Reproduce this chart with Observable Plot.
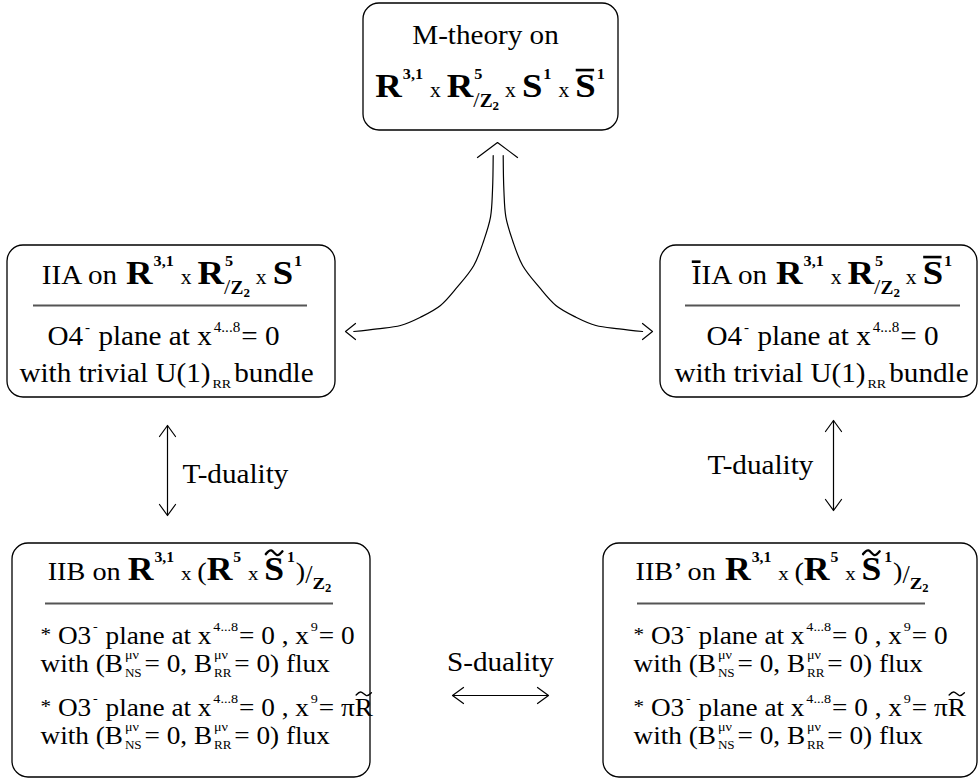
<!DOCTYPE html>
<html><head><meta charset="utf-8">
<script src="https://cdn.jsdelivr.net/npm/d3@7"></script>
<script src="https://cdn.jsdelivr.net/npm/@observablehq/plot@0.6"></script>
<style>body{margin:0;background:#fff}</style>
</head><body><div id="chart"></div>
<script>
// ---------- diagram data ----------
const boxes = [
  {id: "M",     x1: 363, x2: 618, y1: 3,   y2: 130},
  {id: "IIA",   x1: 7,   x2: 335, y1: 245, y2: 397},
  {id: "IIAb",  x1: 660, x2: 977, y1: 245, y2: 397},
  {id: "IIB",   x1: 12,  x2: 370, y1: 543, y2: 777},
  {id: "IIBp",  x1: 603, x2: 977, y1: 543, y2: 777}
];
const dividers = [
  {x1: 33,  x2: 307, y: 305},
  {x1: 685, x2: 960, y: 305},
  {x1: 45,  x2: 333, y: 603},
  {x1: 637, x2: 925, y: 603}
];
// token lists: [text, style, flag]
const Rchain = [["R","B"],["3,1","bsup"],["x","tm"],["R","B"],["5","bsup","stack"],["/","slash"],["Z","bsub"],["2","bsub2"],["x","tm"]];
const IIBchain = [["R","B"],["3,1","bsup"],["x","tm"],["(","rm"],["R","B"],["5","bsup"],["x","tm"],["S","B","tilde"],["1","bsupT"],[")","rm"],["/","slash2"],["Z","bsub"],["2","bsub2"]];
const o4Row = [["O4","rm"],["-","sup"],[" plane at x","rm"],["4...8","sup"],["= 0","rm"]];
const bundleRow = [["with trivial U(1)","rm"],["RR","sub"],["bundle","rm"]];
const o3RowA = [["*","ast"],[" O3","rm"],["-","sup"],[" plane at x","rm"],["4...8","sup"],["= 0 , x","rm"],["9","sup"],["= 0","rm"]];
const o3RowB = [["*","ast"],[" O3","rm"],["-","sup"],[" plane at x","rm"],["4...8","sup"],["= 0 , x","rm"],["9","sup"],["= π","rm"],["R","rm","tilde"]];
const fluxRow = [["with (B","rm"],["μν","sup","stack"],["NS","sub"],["= 0, B","rm"],["μν","sup","stack"],["RR","sub"],["= 0) flux","rm"]];

const rows = [
  {x: 485, y: 43,  anchor: "middle", tokens: [["M-theory on","rm"]]},
  {x: 490, y: 96,  anchor: "middle", tokens: [...Rchain, ["S","B"],["1","bsup"],["x","tm"],["S","B","bar"],["1","bsup"]]},
  {x: 172, y: 283, anchor: "middle", tokens: [["IIA on ","rm"], ...Rchain, ["S","B"],["1","bsup"]]},
  {x: 163, y: 344, anchor: "middle", tokens: o4Row},
  {x: 166, y: 381, anchor: "middle", tokens: bundleRow},
  {x: 822, y: 283, anchor: "middle", tokens: [["I","rm","bar"],["IA on ","rm"], ...Rchain, ["S","B","bar"],["1","bsup"]]},
  {x: 822, y: 344, anchor: "middle", tokens: o4Row},
  {x: 821, y: 381, anchor: "middle", tokens: bundleRow},
  {x: 189, y: 579, anchor: "middle", k: 0.97, tokens: [["IIB on ","rm"], ...IIBchain]},
  {x: 40,  y: 643, anchor: "start", k: 0.935, tokens: o3RowA},
  {x: 40,  y: 671, anchor: "start", k: 0.935, tokens: fluxRow},
  {x: 40,  y: 715, anchor: "start", k: 0.935, tokens: o3RowB},
  {x: 40,  y: 743, anchor: "start", k: 0.935, tokens: fluxRow},
  {x: 635, y: 579, anchor: "start", k: 0.97, tokens: [["IIB’ on ","rm"], ...IIBchain]},
  {x: 633, y: 643, anchor: "start", k: 0.935, tokens: o3RowA},
  {x: 633, y: 671, anchor: "start", k: 0.935, tokens: fluxRow},
  {x: 633, y: 715, anchor: "start", k: 0.935, tokens: o3RowB},
  {x: 633, y: 743, anchor: "start", k: 0.935, tokens: fluxRow},
  {x: 182, y: 482, anchor: "start", tokens: [["T-duality","rm"]]},
  {x: 707, y: 473, anchor: "start", tokens: [["T-duality","rm"]]},
  {x: 500, y: 670, anchor: "middle", tokens: [["S-duality","rm"]]}
];
// straight double-headed arrows
const straightArrows = [
  {x1: 167, y1: 425, x2: 167, y2: 515},
  {x1: 833, y1: 420, x2: 833, y2: 510},
  {x1: 452, y1: 695, x2: 548, y2: 695}
];
// fork from M-theory box to the IIA boxes
const forkLeftX  = [492.7, 492.0, 490.0, 483.3, 473.3, 456.7, 440.0, 420.0, 400.0, 376.7, 353.3];
const forkLeftY  = [155, 190, 216.7, 240, 265, 286.7, 305, 316.7, 325, 328.3, 331];
const forkRightX = [502.7, 503.4, 505.4, 512.1, 522.1, 538.7, 555.4, 575.4, 595.4, 618.7, 642.1];
const forkRightY = [155, 190, 216.7, 240, 265, 286.7, 305, 316.7, 325, 328.3, 331];
const forkHeads = [
  {x: 497, y: 142, dx: 0,  dy: -1, L: 15, W: 20},
  {x: 345, y: 331, dx: -1, dy: 0,  L: 10, W: 8},
  {x: 652, y: 331, dx: 1,  dy: 0,  L: 10, W: 8}
];

// ---------- text styles ----------
const FONT = "Liberation Serif, Times New Roman, serif";
const HS = 1.08;
const STY = {
  rm:    {size: 27, w: 400, dy: 0},
  B:     {size: 34, w: 700, dy: 0},
  tm:    {size: 20, w: 400, dy: 0, pl: 6, pr: 6},
  bsup:  {size: 15, w: 700, dy: -18, pl: 1, pr: 1},
  bsupT: {size: 15, w: 700, dy: -18, pl: 3, pr: 1},
  bsub:  {size: 18, w: 700, dy: 10},
  bsub2: {size: 12, w: 700, dy: 13},
  slash: {size: 21, w: 400, dy: 10},
  slash2:{size: 25, w: 400, dy: 4},
  sup:   {size: 14, w: 400, dy: -13, pl: 2, pr: 1},
  sub:   {size: 13, w: 400, dy: 6, pl: 2, pr: 3},
  ast:   {size: 21, w: 400, dy: -3}
};
const subStyles = new Set(["bsub","bsub2","slash","sub"]);
const ctx = document.createElement("canvas").getContext("2d");
function measure(t, size, w) { ctx.font = `${w} ${size}px "Liberation Serif"`; return ctx.measureText(t).width * HS; }

const pieces = [], bars = [], tildes = [];
for (const row of rows) {
  const k = row.k || 1;
  let x = 0, pend = null;
  const local = [], lbars = [], ltil = [];
  for (const [t, s, f] of row.tokens) {
    const st = STY[s];
    const size = st.size * k;
    if (pend != null && !subStyles.has(s)) { x = Math.max(x, pend); pend = null; }
    const start = x;
    x += (st.pl || 0) * k;
    const w = measure(t, size, st.w);
    local.push({t, x, y: row.y + st.dy * k, size, weight: st.w});
    if (f === "bar") lbars.push({x1: x + w * 0.05, x2: x + w * 0.95, y: row.y - size * 0.66 - 4});
    if (f === "tilde") ltil.push({cx: x + w / 2, cy: row.y - size * 0.66 - 5, hw: w * 0.42, a: size * 0.07, weight: st.w});
    x += w + (st.pr || 0) * k;
    if (f === "stack") { pend = x; x = start; }
  }
  if (pend != null) x = Math.max(x, pend);
  const off = row.anchor === "middle" ? row.x - x / 2 : row.x;
  for (const p of local) pieces.push({...p, x: p.x + off});
  for (const b of lbars) bars.push({...b, x1: b.x1 + off, x2: b.x2 + off});
  for (const q of ltil) tildes.push({...q, cx: q.cx + off});
}

// tilde accents drawn as small waves (4 control points each)
const tildePts = [];
tildes.forEach((q, i) => {
  [[-1, 0.6], [-0.35, -1], [0.35, 1], [1, -0.6]].forEach(([u, v]) =>
    tildePts.push({x: q.cx + u * q.hw, y: q.cy + v * q.a, id: i, sw: q.weight === 700 ? 2.4 : 1.4}));
});

// ---------- arrows ----------
function chevron(ax, ay, dx, dy, L, W, id) {
  const nx = -dy, ny = dx;
  return [
    {x: ax - L * dx + W * nx, y: ay - L * dy + W * ny, id},
    {x: ax, y: ay, id},
    {x: ax - L * dx - W * nx, y: ay - L * dy - W * ny, id}
  ];
}
const heads = [];
straightArrows.forEach((a, i) => {
  const len = Math.hypot(a.x2 - a.x1, a.y2 - a.y1), ux = (a.x2 - a.x1) / len, uy = (a.y2 - a.y1) / len;
  heads.push(...chevron(a.x2, a.y2, ux, uy, 11, 8, "s" + i + "b"));
  heads.push(...chevron(a.x1, a.y1, -ux, -uy, 11, 8, "s" + i + "a"));
});
forkHeads.forEach((h, i) => heads.push(...chevron(h.x, h.y, h.dx, h.dy, h.L, h.W, "f" + i)));
const fork = [
  ...forkLeftX.map((x, i) => ({x, y: forkLeftY[i], b: "L"})),
  ...forkRightX.map((x, i) => ({x, y: forkRightY[i], b: "R"}))
];

const bold = pieces.filter(p => p.weight === 700), reg = pieces.filter(p => p.weight !== 700);
const txt = {x: "x", y: "y", text: "t", fontSize: "size", textAnchor: "start", lineAnchor: "bottom", fontFamily: FONT, fill: "black"};

const svg = Plot.plot({
  width: 980, height: 782, margin: 0,
  x: {domain: [0, 980], range: [0, 980], axis: null},
  y: {domain: [0, 782], range: [0, 782], axis: null},
  style: {background: "white"},
  marks: [
    Plot.rect(boxes, {x1: "x1", x2: "x2", y1: "y1", y2: "y2", rx: 16, fill: "none", stroke: "black", strokeWidth: 1.3}),
    Plot.ruleY(dividers, {y: "y", x1: "x1", x2: "x2", stroke: "#555", strokeWidth: 2}),
    Plot.link(straightArrows, {x1: "x1", y1: "y1", x2: "x2", y2: "y2", stroke: "black", strokeWidth: 1.2}),
    Plot.line(fork, {x: "x", y: "y", z: "b", curve: "catmull-rom", stroke: "black", strokeWidth: 1.2}),
    Plot.line(heads, {x: "x", y: "y", z: "id", stroke: "black", strokeWidth: 1.2}),
    Plot.ruleY(bars, {y: "y", x1: "x1", x2: "x2", stroke: "black", strokeWidth: 2.6}),
    Plot.line(tildePts.filter(d => d.sw > 2), {x: "x", y: "y", z: "id", curve: "natural", stroke: "black", strokeWidth: 2.4}),
    Plot.line(tildePts.filter(d => d.sw < 2), {x: "x", y: "y", z: "id", curve: "natural", stroke: "black", strokeWidth: 1.4}),
    Plot.text(reg, {...txt, fontWeight: 400}),
    Plot.text(bold, {...txt, fontWeight: 700})
  ]
});
svg.querySelectorAll("text").forEach(t => {
  const tr = t.getAttribute("transform");
  if (tr) t.setAttribute("transform", tr + ` scale(${HS},1)`);
});
document.getElementById("chart").append(svg);
</script>
</body></html>
